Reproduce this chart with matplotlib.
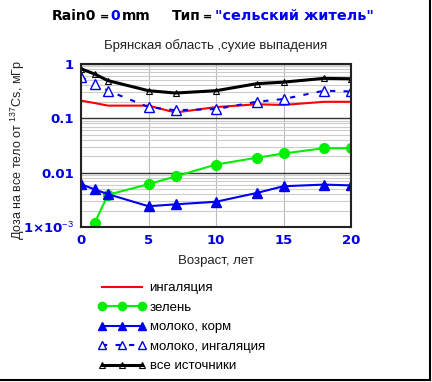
import numpy as np
import matplotlib
matplotlib.use("Agg")
import matplotlib.pyplot as plt
from matplotlib.ticker import FixedLocator, LogLocator, NullFormatter

plt.rcParams['font.family'] = ['Liberation Sans', 'DejaVu Sans']
plt.rcParams['mathtext.fontset'] = 'custom'
plt.rcParams['mathtext.rm'] = 'Liberation Sans'
plt.rcParams['mathtext.bf'] = 'DejaVu Sans:bold'

age = [0, 1, 2, 5, 7, 10, 13, 15, 18, 20]
inhal = [0.21, 0.19, 0.17, 0.17, 0.127, 0.16, 0.18, 0.175, 0.2, 0.2]
green_age = [1, 2, 5, 7, 10, 13, 15, 18, 20]
greens = [0.00117, 0.0039, 0.0061, 0.0085, 0.014, 0.0187, 0.0224, 0.028, 0.028]
milk_feed = [0.0061, 0.0049, 0.0040, 0.0024, 0.0026, 0.0029, 0.0042, 0.0056, 0.006, 0.0058]
milk_inhal = [0.57, 0.43, 0.32, 0.16, 0.14, 0.147, 0.2, 0.225, 0.32, 0.31]
total = [0.81, 0.65, 0.49, 0.32, 0.29, 0.32, 0.43, 0.46, 0.54, 0.53]

names = ["ингаляция", "зелень", "молоко, корм", "молоко, ингаляция", "все источники"]

fig = plt.figure(figsize=(4.32, 3.82), dpi=100)
ax = fig.add_axes([0.1875, 0.406, 0.625, 0.427])

ax.plot(age, inhal, color='red', lw=1.5, label=names[0])
ax.plot(green_age, greens, color='#00ee00', lw=1.5, marker='o', ms=7, label=names[1])
ax.plot(age, milk_feed, color='#0000ee', lw=1.5, marker='^', ms=7, label=names[2])
ax.plot(age, milk_inhal, color='#0000ee', lw=1.5, ls=(0, (2.5, 4)), marker='^', ms=7,
        mfc='white', label=names[3])
ax.plot(age, total, color='black', lw=2.2, marker='^', ms=5, mfc='none', mew=0.8,
        label=names[4])

ax.set_yscale('log')
ax.set_xlim(0, 20)
ax.set_ylim(1e-3, 1)
ax.set_xticks([0, 5, 10, 15, 20])
ax.yaxis.set_major_locator(FixedLocator([1e-3, 1e-2, 1e-1, 1]))
ax.yaxis.set_minor_locator(LogLocator(base=10, subs=np.arange(2, 10)))
ax.yaxis.set_minor_formatter(NullFormatter())
ax.set_yticklabels(['1×10$^{-3}$', '0.01', '0.1', '1'])
ax.tick_params(axis='both', which='both', length=0, labelcolor='#0000dd', labelsize=9.5, pad=5)
for t in ax.get_xticklabels() + ax.get_yticklabels():
    t.set_fontweight('bold')
    t.set_family(['DejaVu Sans'])

ax.grid(True, which='minor', axis='y', color='#cccccc', lw=0.8)
ax.grid(True, which='major', axis='y', color='#333333', lw=1.0)
ax.grid(True, which='major', axis='x', color='#bbbbbb', lw=0.8)
ax.set_axisbelow(True)
for s in ax.spines.values():
    s.set_linewidth(1.5)
    s.set_color('#222222')

ax.set_xlabel("Возраст, лет", fontsize=9.5, color='#222222', labelpad=6)
ax.set_ylabel("Доза на все тело от $^{137}$Cs, мГр", fontsize=9, color='#222222')
ax.yaxis.set_label_coords(-0.2, 0.47)

# title pieces, placed at the pixel positions of the reference
y0 = 0.957
fs = 10
tf = ['DejaVu Sans']
fig.text(52 / 432, y0, "Rain0", fontsize=fs, fontweight='bold', va='center', family=tf)
fig.text(100 / 432, y0, "=", fontsize=8, fontweight='bold', va='center', family=tf)
fig.text(110 / 432, y0, "0", fontsize=fs, fontweight='bold', color='#0000ee', va='center', family=tf)
fig.text(122 / 432, y0, "mm", fontsize=fs, fontweight='bold', va='center', family=tf)
fig.text(172 / 432, y0, "Тип", fontsize=fs, fontweight='bold', va='center', family=tf)
fig.text(203 / 432, y0, "=", fontsize=8, fontweight='bold', va='center', family=tf)
fig.text(215 / 432, y0, "\"сельский житель\"", fontsize=10.4, fontweight='bold',
         color='#0000ee', va='center', family=tf)
fig.text(0.5, 0.882, "Брянская область ,сухие выпадения", fontsize=9.5, ha='center',
         va='center', color='#222222')

fig.legend(loc='upper left', bbox_to_anchor=(0.215, 0.275), frameon=False,
           numpoints=3, handlelength=3.6, handletextpad=0.3, labelspacing=0.55,
           fontsize=9.5, borderaxespad=0, markerscale=0.85)

# frame on right and bottom of the image
fig.add_artist(plt.Line2D([0.996, 0.996], [0.005, 1.0], color='black', lw=1.5,
                          transform=fig.transFigure))
fig.add_artist(plt.Line2D([0.0, 0.996], [0.005, 0.005], color='black', lw=1.5,
                          transform=fig.transFigure))

fig.savefig("out.png", dpi=100)
